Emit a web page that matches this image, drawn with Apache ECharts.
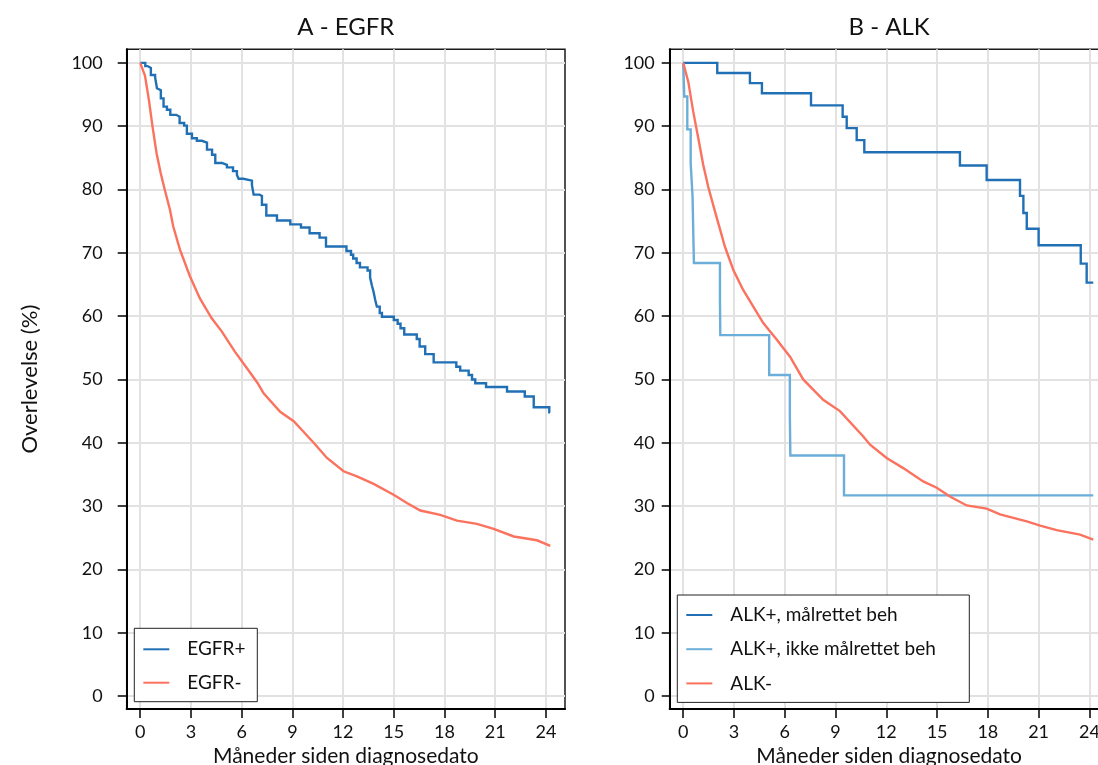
<!DOCTYPE html>
<html>
<head>
<meta charset="utf-8">
<script src="https://cdn.jsdelivr.net/npm/echarts@6/dist/echarts.min.js"></script>
<style>
  html, body { margin: 0; padding: 0; background: #fff; }
  #chart { width: 1098px; height: 765px; }
</style>
</head>
<body>
<div id="chart"></div>
<script>
// Tick positions
const monthTicks = [0, 3, 6, 9, 12, 15, 18, 21, 24];
const survivalTicks = [0, 10, 20, 30, 40, 50, 60, 70, 80, 90, 100];

// Panel titles and legend names
const panelTitles = ['A - EGFR', 'B - ALK'];
const egfrNames = ['EGFR+', 'EGFR-'];
const alkNames = ['ALK+, målrettet beh', 'ALK+, ikke målrettet beh', 'ALK-'];

// Kaplan-Meier estimates: [months since diagnosis, survival %]
const egfrPos = [[0,100],[0.3,99.5],[0.44,99.2],[0.63,98.1],[0.88,97.7],[0.99,96.0],[1.1,95.7],[1.22,94.4],[1.38,93.1],[1.58,92.6],[1.78,91.8],[2.13,91.5],[2.33,90.5],[2.6,90.1],[2.76,88.8],[3.06,88.1],[3.35,87.7],[3.65,87.4],[3.95,86.3],[4.25,85.5],[4.44,84.2],[4.83,83.9],[5.13,83.5],[5.49,82.9],[5.72,82.3],[5.82,81.7],[6.1,81.4],[6.61,80.7],[6.71,79.2],[7.06,79.0],[7.2,77.6],[7.46,75.9],[8.09,75.1],[8.88,74.5],[9.51,74.0],[10.02,73.1],[10.61,72.4],[10.99,71.0],[12.2,70.3],[12.47,69.7],[12.6,69.1],[12.8,68.4],[13.0,67.7],[13.45,67.2],[13.6,66.1],[13.71,64.8],[13.8,63.9],[13.9,62.6],[14.0,61.5],[14.17,60.5],[14.3,59.9],[15.0,59.4],[15.23,58.8],[15.4,58.1],[15.62,57.1],[16.36,56.4],[16.53,55.2],[16.86,54.0],[17.36,52.7],[18.7,52.0],[18.93,51.4],[19.43,50.7],[19.63,50.0],[19.82,49.4],[20.46,48.8],[21.7,48.1],[22.75,47.3],[23.28,45.6],[24.2,44.8],[24.25,44.8]];
const egfrNeg = [[0,100],[0.28,98.0],[0.51,94.2],[0.73,89.9],[0.97,85.7],[1.21,82.6],[1.46,79.9],[1.76,76.8],[1.95,74.2],[2.35,70.5],[2.94,66.3],[3.53,62.8],[4.22,59.7],[4.82,57.6],[5.6,54.4],[6.39,51.5],[6.95,49.4],[7.3,47.8],[8.28,44.9],[9.08,43.4],[9.47,42.3],[10.26,40.0],[11.05,37.6],[12.03,35.5],[12.82,34.7],[13.81,33.5],[14.99,31.8],[15.78,30.5],[16.57,29.3],[17.75,28.6],[18.74,27.7],[19.92,27.2],[20.91,26.4],[22.1,25.2],[23.47,24.6],[24.26,23.7]];
const alkPosTargeted = [[0,100],[2.01,98.4],[3.94,96.8],[4.65,95.2],[7.55,93.3],[9.42,91.5],[9.66,89.7],[10.25,87.8],[10.7,85.9],[16.35,83.8],[17.93,81.5],[19.9,79.0],[20.1,76.3],[20.3,73.8],[21.0,71.2],[23.49,68.3],[23.84,65.3],[24.23,65.3]];
const alkPosOther = [[0,100],[0.06,94.7],[0.24,89.5],[0.44,84.2],[0.55,78.9],[0.59,73.7],[0.63,68.4],[2.17,62.7],[2.19,57.0],[5.08,50.7],[6.3,44.2],[6.33,38.0],[9.5,31.7],[24.23,31.7]];
const alkNeg = [[0,100],[0.3,97.0],[0.59,92.3],[0.89,88.1],[1.18,83.9],[1.48,80.4],[1.87,76.6],[2.07,74.7],[2.46,71.0],[2.96,67.3],[3.55,64.1],[4.14,61.5],[4.73,58.9],[5.52,56.3],[6.31,53.6],[7.09,50.0],[8.27,46.8],[9.26,45.0],[10.64,41.0],[11.04,39.7],[12.02,37.6],[13.0,36.0],[14.18,33.9],[14.98,32.9],[15.76,31.5],[16.75,30.1],[17.93,29.6],[18.72,28.7],[20.3,27.6],[21.09,26.9],[22.07,26.2],[23.45,25.5],[24.23,24.7]];

const DARK_BLUE = '#2170b5';
const LIGHT_BLUE = '#6baed9';
const SALMON = '#fb725f';
const FONT = 'Lato';
const TEXT = '#111';

const panels = [
  { left: 126.7, width: 438.3, labelMargin: 24, tickLen: 9 },
  { left: 669.7, width: 438.8, labelMargin: 15, tickLen: 8 }
];

function xAxisFor(i) {
  return {
    type: 'value', gridIndex: i, min: -0.8, max: 25.13,
    name: 'Måneder siden diagnosedato', nameLocation: 'middle', nameGap: 36,
    nameTextStyle: { fontFamily: FONT, fontSize: 21, color: TEXT },
    axisLine: { onZero: false, lineStyle: { color: '#000', width: 2 } },
    axisTick: { show: true, length: 9, customValues: monthTicks, lineStyle: { color: '#000', width: 1.5 } },
    axisLabel: { customValues: monthTicks, fontFamily: FONT, fontSize: 18, color: TEXT, margin: 14 },
    splitLine: { show: true, lineStyle: { color: '#e2e2e2', width: 2 } }
  };
}

function yAxisFor(i) {
  const p = panels[i];
  const ax = {
    type: 'value', gridIndex: i, min: -2.05, max: 102.15,
    axisLine: { onZero: false, lineStyle: { color: '#000', width: 2 } },
    axisTick: { show: true, length: p.tickLen, customValues: survivalTicks, lineStyle: { color: '#000', width: 1.5 } },
    axisLabel: { customValues: survivalTicks, fontFamily: FONT, fontSize: 18, color: TEXT, margin: p.labelMargin },
    splitLine: { show: true, lineStyle: { color: '#e2e2e2', width: 2 } }
  };
  if (i === 0) {
    ax.name = 'Overlevelse (%)';
    ax.nameLocation = 'middle';
    ax.nameGap = 86;
    ax.nameTextStyle = { fontFamily: FONT, fontSize: 22, color: TEXT };
  }
  return ax;
}

function kmSeries(name, data, color, idx, stepped) {
  return {
    type: 'line', name: name, data: data,
    xAxisIndex: idx, yAxisIndex: idx,
    step: stepped ? 'end' : false,
    symbol: 'none', silent: true,
    lineStyle: { color: color, width: 2.4, join: 'miter' },
    itemStyle: { color: color },
    z: 3
  };
}

const legendBase = {
  orient: 'vertical', icon: 'rect', itemWidth: 26, itemHeight: 2, selectedMode: false,
  backgroundColor: '#fff', borderColor: '#222', borderWidth: 1, borderRadius: 0
};

const option = {
  animation: false,
  backgroundColor: '#fff',
  title: panelTitles.map((t, i) => ({
    text: t, left: panels[i].left + panels[i].width / 2, top: 15, textAlign: 'center', padding: 0,
    textStyle: { fontFamily: FONT, fontSize: 24, fontWeight: 'normal', color: TEXT }
  })),
  grid: panels.map(p => ({
    left: p.left, top: 49.3, width: p.width, height: 659.7,
    outerBoundsMode: 'none', containLabel: false,
    show: true, borderColor: '#1a1a1a', borderWidth: 1.5, backgroundColor: 'transparent'
  })),
  xAxis: [xAxisFor(0), xAxisFor(1)],
  yAxis: [yAxisFor(0), yAxisFor(1)],
  legend: [
    Object.assign({}, legendBase, {
      data: egfrNames, left: 134.3, top: 628.3, itemGap: 11.4,
      padding: [10, 0, 8, 9],
      textStyle: { fontFamily: FONT, fontSize: 19, color: TEXT, lineHeight: 22, width: 70, padding: [0, 0, 0, 13] }
    }),
    Object.assign({}, legendBase, {
      data: alkNames, left: 677.3, top: 595, itemGap: 12.2,
      padding: [9, 0, 8, 9],
      textStyle: { fontFamily: FONT, fontSize: 19, color: TEXT, lineHeight: 22, width: 239, padding: [0, 0, 0, 13] }
    })
  ],
  series: [
    kmSeries(egfrNames[0], egfrPos, DARK_BLUE, 0, true),
    kmSeries(egfrNames[1], egfrNeg, SALMON, 0, false),
    kmSeries(alkNames[0], alkPosTargeted, DARK_BLUE, 1, true),
    kmSeries(alkNames[1], alkPosOther, LIGHT_BLUE, 1, true),
    kmSeries(alkNames[2], alkNeg, SALMON, 1, false)
  ]
};

const chart = echarts.init(document.getElementById('chart'), null, { renderer: 'canvas' });
chart.setOption(option);
</script>
</body>
</html>
